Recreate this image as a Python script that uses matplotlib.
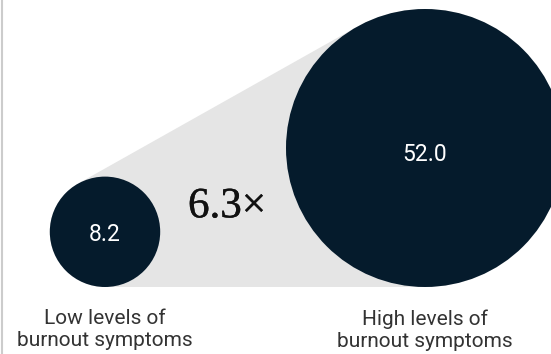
import numpy as np
import matplotlib
matplotlib.use("Agg")
import matplotlib.pyplot as plt
from matplotlib.patches import Circle, Polygon
import matplotlib.patheffects as pe

# data
categories = ["Low levels of\nburnout symptoms", "High levels of\nburnout symptoms"]
values = [8.2, 52.0]
ratio_label = "6.3\u00d7"

# layout in pixel units (y grows downward)
W, H = 551, 354
baseline = 287          # both circles sit on this line
centers_x = [105, 425]
scale = 139 / np.sqrt(52.0)   # radius per sqrt(value), so area ~ value
navy = "#051b2c"
grey = "#e5e5e5"

fig = plt.figure(figsize=(W / 100, H / 100), dpi=100)
ax = fig.add_axes([0, 0, 1, 1])
ax.set_xlim(0, W)
ax.set_ylim(H, 0)
ax.axis("off")

radii = [scale * np.sqrt(v) for v in values]
centers = [(cx, baseline - r) for cx, r in zip(centers_x, radii)]

# grey band = convex hull of the two circles
pts = []
for (cx, cy), r in zip(centers, radii):
    t = np.linspace(0, 2 * np.pi, 400, endpoint=False)
    pts += list(zip(cx + r * np.cos(t), cy + r * np.sin(t)))
pts = sorted(set(pts))

def cross(o, a, b):
    return (a[0] - o[0]) * (b[1] - o[1]) - (a[1] - o[1]) * (b[0] - o[0])

lower, upper = [], []
for p in pts:
    while len(lower) >= 2 and cross(lower[-2], lower[-1], p) <= 0:
        lower.pop()
    lower.append(p)
for p in reversed(pts):
    while len(upper) >= 2 and cross(upper[-2], upper[-1], p) <= 0:
        upper.pop()
    upper.append(p)
hull = lower[:-1] + upper[:-1]
ax.add_patch(Polygon(hull, closed=True, facecolor=grey, edgecolor="none", zorder=1))

for (cx, cy), r, v, lab in zip(centers, radii, values, categories):
    ax.add_patch(Circle((cx, cy), r, facecolor=navy, edgecolor="none", zorder=2))
    ax.text(cx, cy + 0.05 * r, f"{v:.1f}", color="white", fontsize=16.5,
            family="Roboto", ha="center", va="center", zorder=3)
    ax.text(cx, baseline + 43, lab, color="#333333", fontsize=15,
            family="Roboto", ha="center", va="center", linespacing=1.2)

ax.text(227, 207, ratio_label, fontsize=31, family="Liberation Serif",
        color="#111111", ha="center", va="center", zorder=3,
        path_effects=[pe.withStroke(linewidth=0.3, foreground="#111111")])

# thin rule on the left edge
ax.plot([2, 2], [0, H], color="#cccccc", lw=1.5, solid_capstyle="butt")

fig.savefig("out.png", dpi=100)
